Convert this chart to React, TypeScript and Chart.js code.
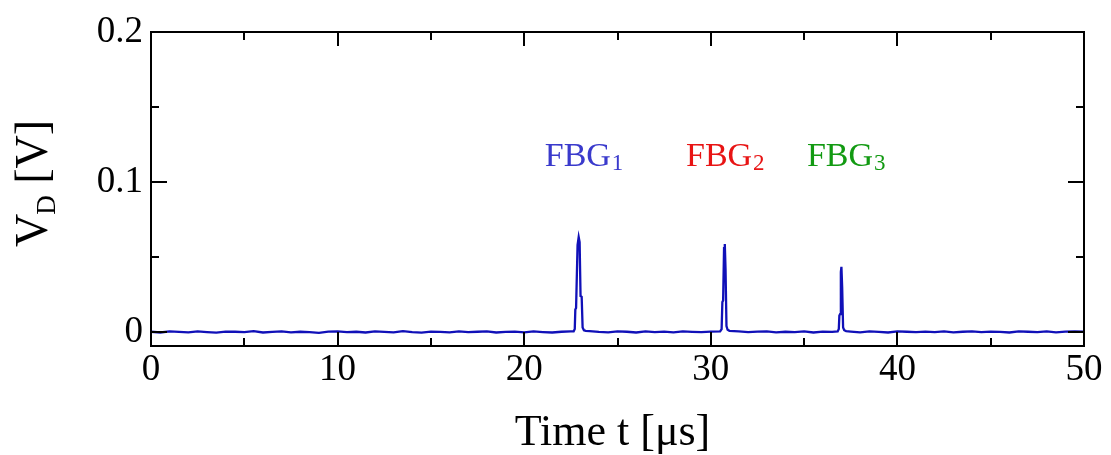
import React, { useEffect, useRef } from "react";
import { Chart, registerables } from "chart.js";

Chart.register(...registerables);

// ---- data ----
const TIME_US: number[] = [
  0, 0.5, 1, 1.5, 2, 2.5, 3, 3.5, 4, 4.5, 5, 5.5, 6, 6.5, 7, 7.5, 8, 8.5, 9, 9.5,
  10, 10.5, 11, 11.5, 12, 12.5, 13, 13.5, 14, 14.5, 15, 15.5, 16, 16.5, 17, 17.5,
  18, 18.5, 19, 19.5, 20, 20.5, 21, 21.5, 22, 22.5,
  22.65, 22.71, 22.74, 22.78, 22.86, 22.92, 22.97, 23.02, 23.08, 23.13, 23.2, 23.3,
  23.5, 24, 24.5, 25, 25.5, 26, 26.5, 27, 27.5, 28, 28.5, 29, 29.5, 30,
  30.5, 30.58, 30.62, 30.66, 30.71, 30.75, 30.79, 30.84, 30.9, 31.0,
  31.5, 32, 32.5, 33, 33.5, 34, 34.5, 35, 35.5, 36, 36.5,
  36.8, 36.86, 36.89, 36.93, 36.97, 37.0, 37.04, 37.09, 37.15, 37.25,
  37.5, 38, 38.5, 39, 39.5, 40, 40.5, 41, 41.5, 42, 42.5, 43, 43.5, 44, 44.5, 45,
  45.5, 46, 46.5, 47, 47.5, 48, 48.5, 49, 49.5, 50,
];

const VOLTAGE_V: number[] = [
  0.0002, -0.0003, 0.0004, 0.0001, -0.0002, 0.0005, 0.0, -0.0004, 0.0003, 0.0002,
  -0.0001, 0.0006, -0.0003, 0.0001, 0.0004, -0.0002, 0.0002, 0.0, -0.0005, 0.0003,
  0.0005, -0.0001, 0.0002, -0.0003, 0.0004, 0.0001, -0.0002, 0.0006, 0.0, -0.0004,
  0.0003, 0.0001, -0.0002, 0.0004, -0.0001, 0.0002, 0.0005, -0.0003, 0.0001, 0.0003,
  -0.0002, 0.0004, 0.0, -0.0003, 0.0002, 0.0004,
  0.0005, 0.002, 0.015, 0.016, 0.058, 0.0633, 0.06, 0.024, 0.0235, 0.003, 0.0012, 0.0008,
  0.0006, 0.0001, -0.0002, 0.0004, 0.0002, -0.0003, 0.0005, 0.0, 0.0003, -0.0002,
  0.0004, 0.0001, -0.0001, 0.0003,
  0.0005, 0.002, 0.02, 0.021, 0.056, 0.0587, 0.042, 0.004, 0.0015, 0.0008,
  0.0004, -0.0001, 0.0003, 0.0005, -0.0002, 0.0002, 0.0, 0.0004, -0.0003, 0.0003, 0.0001,
  0.0004, 0.002, 0.011, 0.012, 0.04, 0.0435, 0.03, 0.003, 0.0012, 0.0006,
  0.0003, -0.0002, 0.0004, 0.0001, -0.0003, 0.0005, 0.0002, -0.0001, 0.0003, 0.0,
  0.0004, -0.0002, 0.0002, 0.0005, -0.0001, 0.0003, 0.0001, -0.0003, 0.0004, 0.0002,
  0.0, 0.0005, -0.0002, 0.0003, 0.0004, 0.0002,
];

const X_MAJOR_TICKS = [0, 10, 20, 30, 40, 50];
const X_TICK_LABELS = ["0", "10", "20", "30", "40", "50"];
const X_MINOR_TICKS = [5, 15, 25, 35, 45];
const Y_MAJOR_TICKS = [0, 0.1, 0.2];
const Y_TICK_LABELS = ["0", "0.1", "0.2"];
const Y_MINOR_TICKS = [0.05, 0.15];

const PEAK_NAMES = ["FBG", "FBG", "FBG"];
const PEAK_SUBSCRIPTS = ["1", "2", "3"];
const X_TITLE = "Time t [μs]";

// ---- layout / style (not data) ----
const LABEL_POS = [
  { x: 21.1, y: 0.1107, color: "#3a3acc" },
  { x: 28.67, y: 0.1107, color: "#e81414" },
  { x: 35.15, y: 0.1107, color: "#129a12" },
];
const FONT = "'Liberation Serif', 'Times New Roman', serif";

const decorPlugin = {
  id: "decor",
  afterDraw(chart: any) {
    const { ctx, chartArea } = chart;
    const xs = chart.scales.x;
    const ys = chart.scales.y;
    const { left, right, top, bottom } = chartArea;
    ctx.save();
    ctx.strokeStyle = "#000";
    ctx.lineWidth = 2;
    ctx.lineCap = "butt";
    ctx.beginPath();
    const tick = (x1: number, y1: number, x2: number, y2: number) => {
      ctx.moveTo(x1, y1);
      ctx.lineTo(x2, y2);
    };
    X_MAJOR_TICKS.forEach((v) => {
      const px = Math.round(xs.getPixelForValue(v));
      tick(px, bottom, px, bottom - 14);
      tick(px, top, px, top + 14);
    });
    X_MINOR_TICKS.forEach((v) => {
      const px = Math.round(xs.getPixelForValue(v));
      tick(px, bottom, px, bottom - 8);
      tick(px, top, px, top + 8);
    });
    Y_MAJOR_TICKS.forEach((v) => {
      const py = Math.round(ys.getPixelForValue(v));
      tick(left, py, left + 16, py);
      tick(right, py, right - 16, py);
    });
    Y_MINOR_TICKS.forEach((v) => {
      const py = Math.round(ys.getPixelForValue(v));
      tick(left, py, left + 8, py);
      tick(right, py, right - 8, py);
    });
    ctx.stroke();
    ctx.strokeRect(left, top, right - left, bottom - top);

    // FBG labels
    ctx.textBaseline = "alphabetic";
    ctx.textAlign = "left";
    LABEL_POS.forEach((p, i) => {
      const px = xs.getPixelForValue(p.x);
      const py = ys.getPixelForValue(p.y);
      ctx.fillStyle = p.color;
      ctx.font = `34px ${FONT}`;
      ctx.fillText(PEAK_NAMES[i], px, py);
      const w = ctx.measureText(PEAK_NAMES[i]).width;
      ctx.font = `23px ${FONT}`;
      ctx.fillText(PEAK_SUBSCRIPTS[i], px + w + 1, py + 4);
    });

    // X axis title
    ctx.fillStyle = "#000";
    ctx.font = `44px ${FONT}`;
    ctx.textAlign = "center";
    ctx.fillText(X_TITLE, (left + right) / 2 - 5, 445);

    // Y axis title with subscript
    ctx.save();
    ctx.textAlign = "left";
    ctx.translate(47, 247);
    ctx.rotate(-Math.PI / 2);
    ctx.font = `46px ${FONT}`;
    ctx.fillText("V", 0, 0);
    const wV = ctx.measureText("V").width;
    ctx.font = `27px ${FONT}`;
    ctx.fillText("D", wV - 1, 8);
    const wD = ctx.measureText("D").width;
    ctx.font = `46px ${FONT}`;
    ctx.fillText(" [V]", wV - 1 + wD, 0);
    ctx.restore();
    ctx.restore();
  },
};

export default function App() {
  const ref = useRef<HTMLCanvasElement | null>(null);
  useEffect(() => {
    if (!ref.current) return;
    const points = TIME_US.map((t, i) => ({ x: t, y: VOLTAGE_V[i] }));
    const chart = new Chart(ref.current, {
      type: "line",
      data: {
        datasets: [
          {
            data: points,
            borderColor: "#1010b8",
            borderWidth: 2.3,
            pointRadius: 0,
            tension: 0,
            fill: false,
          },
        ],
      },
      options: {
        animation: false,
        responsive: false,
        devicePixelRatio: 1,
        layout: { padding: { top: 32, right: 27, left: 0, bottom: 0 } },
        plugins: { legend: { display: false }, tooltip: { enabled: false } },
        scales: {
          x: {
            type: "linear",
            min: 0,
            max: 50,
            grid: { display: false, drawTicks: false },
            border: { display: false },
            afterBuildTicks: (s: any) => {
              s.ticks = X_MAJOR_TICKS.map((v) => ({ value: v }));
            },
            afterFit: (s: any) => {
              s.height = 109;
            },
            ticks: {
              color: "#000",
              padding: 2,
              maxRotation: 0,
              font: { family: FONT, size: 37 },
              callback: (v: any) => X_TICK_LABELS[X_MAJOR_TICKS.indexOf(Number(v))] ?? "",
            },
          },
          y: {
            type: "linear",
            min: -0.0093,
            max: 0.2,
            grid: { display: false, drawTicks: false },
            border: { display: false },
            afterBuildTicks: (s: any) => {
              s.ticks = Y_MAJOR_TICKS.map((v) => ({ value: v }));
            },
            afterFit: (s: any) => {
              s.width = 151;
            },
            ticks: {
              color: "#000",
              padding: 8,
              font: { family: FONT, size: 37 },
              callback: (v: any) => {
                const i = Y_MAJOR_TICKS.findIndex((t) => Math.abs(t - Number(v)) < 1e-9);
                return i >= 0 ? Y_TICK_LABELS[i] : "";
              },
            },
          },
        },
      },
      plugins: [decorPlugin],
    });
    return () => chart.destroy();
  }, []);
  return (
    <div style={{ position: "absolute", left: 0, top: 0, width: 1111, height: 455, background: "#fff" }}>
      <canvas ref={ref} width={1111} height={455} />
    </div>
  );
}
